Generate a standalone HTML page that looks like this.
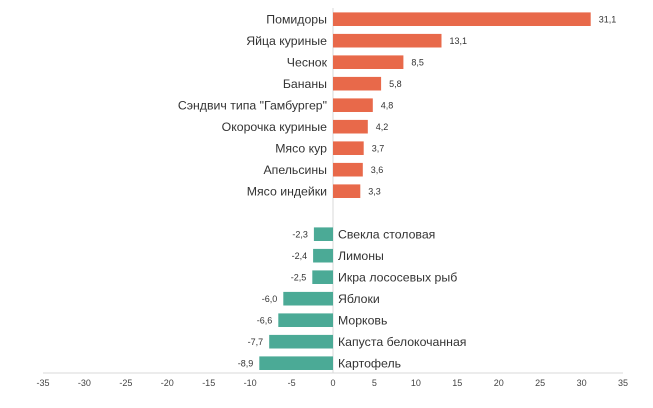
<!DOCTYPE html>
<html><head><meta charset="utf-8"><style>body{margin:0;background:#fff}</style></head><body>
<svg width="653" height="403" xmlns="http://www.w3.org/2000/svg" font-family="Liberation Sans, DejaVu Sans, sans-serif">
<line x1="43" y1="373" x2="623" y2="373" stroke="#d9d9d9" stroke-width="1"/>
<line x1="333" y1="8" x2="333" y2="373" stroke="#d9d9d9" stroke-width="1"/>
<g font-size="9" fill="#444" text-anchor="middle">
<text x="43" y="386">-35</text><text x="84.4" y="386">-30</text><text x="125.9" y="386">-25</text><text x="167.3" y="386">-20</text><text x="208.7" y="386">-15</text><text x="250.1" y="386">-10</text><text x="291.6" y="386">-5</text><text x="333" y="386">0</text><text x="374.4" y="386">5</text><text x="415.9" y="386">10</text><text x="457.3" y="386">15</text><text x="498.7" y="386">20</text><text x="540.1" y="386">25</text><text x="581.6" y="386">30</text><text x="623" y="386">35</text>
</g>
<g fill="#E8694A">
<rect x="333" y="12.4" width="257.7" height="13.6"/>
<rect x="333" y="33.9" width="108.5" height="13.6"/>
<rect x="333" y="55.4" width="70.4" height="13.6"/>
<rect x="333" y="76.9" width="48.1" height="13.6"/>
<rect x="333" y="98.4" width="39.8" height="13.6"/>
<rect x="333" y="119.9" width="34.8" height="13.6"/>
<rect x="333" y="141.4" width="30.7" height="13.6"/>
<rect x="333" y="162.9" width="29.8" height="13.6"/>
<rect x="333" y="184.4" width="27.3" height="13.6"/>
</g>
<g fill="#4BAA96">
<rect x="313.9" y="227.4" width="19.1" height="13.6"/>
<rect x="313.1" y="248.9" width="19.9" height="13.6"/>
<rect x="312.3" y="270.4" width="20.7" height="13.6"/>
<rect x="283.3" y="291.9" width="49.7" height="13.6"/>
<rect x="278.3" y="313.4" width="54.7" height="13.6"/>
<rect x="269.2" y="334.9" width="63.8" height="13.6"/>
<rect x="259.3" y="356.4" width="73.7" height="13.6"/>
</g>
<g font-size="12.3" fill="#333" text-anchor="end">
<text x="327" y="23.5">Помидоры</text>
<text x="327" y="45">Яйца куриные</text>
<text x="327" y="66.5">Чеснок</text>
<text x="327" y="88">Бананы</text>
<text x="327" y="109.5">Сэндвич типа "Гамбургер"</text>
<text x="327" y="131">Окорочка куриные</text>
<text x="327" y="152.5">Мясо кур</text>
<text x="327" y="174">Апельсины</text>
<text x="327" y="195.5">Мясо индейки</text>
</g>
<g font-size="12.3" fill="#333">
<text x="338" y="238.5">Свекла столовая</text>
<text x="338" y="260">Лимоны</text>
<text x="338" y="281.5">Икра лососевых рыб</text>
<text x="338" y="303">Яблоки</text>
<text x="338" y="324.5">Морковь</text>
<text x="338" y="346">Капуста белокочанная</text>
<text x="338" y="367.5">Картофель</text>
</g>
<g font-size="9" fill="#333">
<text x="598.7" y="22.5">31,1</text>
<text x="449.5" y="44">13,1</text>
<text x="411.4" y="65.5">8,5</text>
<text x="389.1" y="87">5,8</text>
<text x="380.8" y="108.5">4,8</text>
<text x="375.8" y="130">4,2</text>
<text x="371.7" y="151.5">3,7</text>
<text x="370.8" y="173">3,6</text>
<text x="368.3" y="194.5">3,3</text>
</g>
<g font-size="9" fill="#333" text-anchor="end">
<text x="307.9" y="237.5">-2,3</text>
<text x="307.1" y="259">-2,4</text>
<text x="306.3" y="280.5">-2,5</text>
<text x="277.3" y="302">-6,0</text>
<text x="272.3" y="323.5">-6,6</text>
<text x="263.2" y="345">-7,7</text>
<text x="253.3" y="366.5">-8,9</text>
</g>
</svg>
</body></html>
